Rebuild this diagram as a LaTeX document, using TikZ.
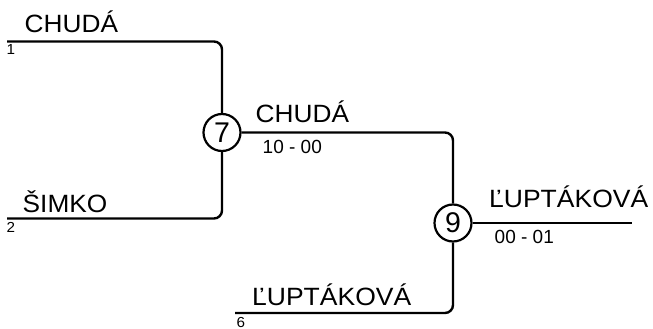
\documentclass[tikz,border=0pt]{standalone}
\usepackage{fontspec}
\setmainfont{Liberation Sans}
\begin{document}
\begin{tikzpicture}[x=1pt,y=-1pt,
  wire/.style={line width=2.4pt,rounded corners=8pt},
  match/.style={circle,draw,line width=2.2pt,minimum size=37pt,inner sep=0pt,
    font=\fontsize{28.5}{28.5}\selectfont},
  player/.style={anchor=base west,inner sep=0pt,font=\fontsize{25}{25}\selectfont},
  score/.style={anchor=base west,inner sep=0pt,font=\fontsize{19}{19}\selectfont},
  seed/.style={anchor=base west,inner sep=0pt,font=\fontsize{14.5}{14.5}\selectfont}]
\useasboundingbox (0,0) rectangle (653,329);
\node[match] (m7) at (222,132.5) {7};
\node[match] (m9) at (453,223) {9};
\coordinate (p1) at (7,41.5);
\coordinate (p2) at (7,218.5);
\coordinate (p6) at (235,313);
\coordinate (w) at (632,223);
\draw[wire] (p1) -| (m7.north);
\draw[wire] (p2) -| (m7.south);
\draw[wire] (m7.east) -| (m9.north);
\draw[wire] (p6) -| (m9.south);
\draw[wire] (m9.east) -- (w);
\node[player] (n1) at (24.5,33) {\scalebox{1.05}[1]{CHUDÁ}};
\node[player] (n2) at (22.5,212) {\scalebox{1.05}[1]{ŠIMKO}};
\node[player] (n7) at (255.5,122) {\scalebox{1.05}[1]{CHUDÁ}};
\node[player] (n9) at (489,207.5) {\scalebox{1.06}[1]{ĽUPTÁKOVÁ}};
\node[player] (n6) at (252,305) {\scalebox{1.06}[1]{ĽUPTÁKOVÁ}};
\node[score] (s7) at (262.5,153) {10 - 00};
\node[score] (s9) at (494.5,243) {00 - 01};
\node[seed] (d1) at (6.5,55) {\scalebox{1.05}[1]{1}};
\node[seed] (d2) at (6.5,232.5) {\scalebox{1.05}[1]{2}};
\node[seed] (d6) at (236.5,327) {\scalebox{1.05}[1]{6}};
\end{tikzpicture}
\end{document}
